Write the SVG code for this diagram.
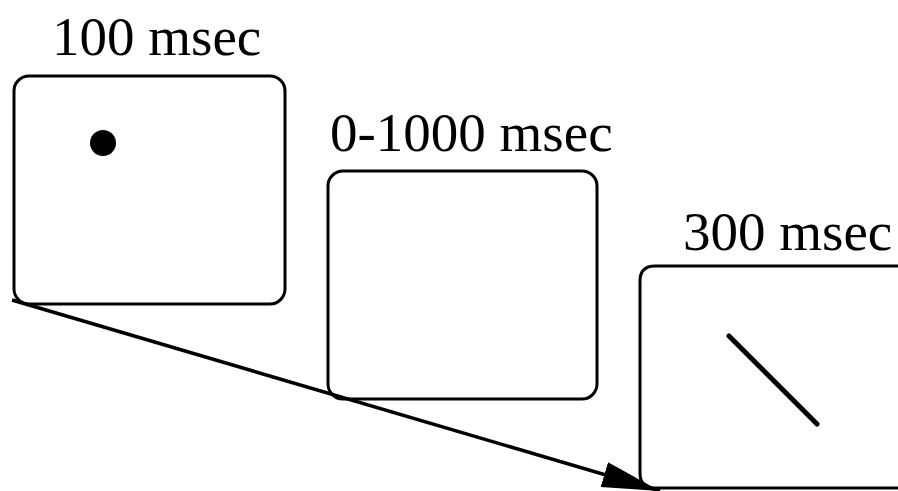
<svg xmlns="http://www.w3.org/2000/svg" width="898" height="491" viewBox="0 0 898 491">
<style>
.frame{fill:none;stroke:#000;stroke-width:3}
.lbl{font-family:"Liberation Serif","Times New Roman",serif;font-size:55px;fill:#000}
</style>
<defs>
<marker id="ah" markerUnits="userSpaceOnUse" markerWidth="60" markerHeight="30" refX="58" refY="15" orient="auto">
<path d="M0,2 L58,15 L0,28 Z" fill="#000"/>
</marker>
</defs>
<rect width="898" height="491" fill="#fff"/>
<g id="frame1">
<rect class="frame" x="14" y="76" width="271" height="228" rx="15"/>
<circle cx="103" cy="143" r="13" fill="#000"/>
<text class="lbl" x="52" y="55">100 msec</text>
</g>
<g id="frame2">
<rect class="frame" x="328" y="171" width="269" height="228" rx="15"/>
<text class="lbl" x="330" y="151">0-1000 msec</text>
</g>
<g id="frame3">
<path class="frame" d="M910,266 L655,266 Q640,266 640,281 L640,473 Q640,488 655,488 L910,488"/>
<line x1="729" y1="336" x2="817" y2="424" stroke="#000" stroke-width="5" stroke-linecap="round"/>
<text class="lbl" x="683" y="250">300 msec</text>
</g>
<g id="connectors">
<line x1="12" y1="300" x2="660" y2="491" stroke="#000" stroke-width="3.5" marker-end="url(#ah)"/>
</g>
</svg>
